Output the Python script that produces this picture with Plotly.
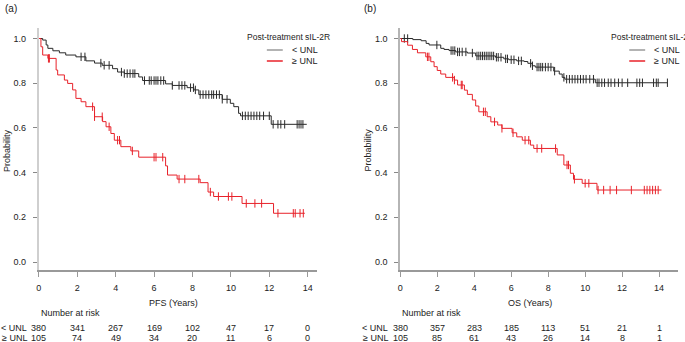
import numpy as np
import plotly.graph_objects as go

# ---------------- data ----------------
# Panel (a) PFS
pfs_low_t = [0, 0.2, 0.38, 0.47, 0.73, 1.07, 1.4, 1.93, 2.45, 2.9, 3.3, 3.84, 4.1, 4.45, 5.2, 5.4,
             6.6, 6.95, 7.72, 8.07, 8.33, 9.55, 9.97, 10.15, 10.4, 10.5, 12.1]
pfs_low_s = [1.0, 0.993, 0.971, 0.956, 0.945, 0.936, 0.926, 0.918, 0.90, 0.89, 0.88, 0.865, 0.85, 0.843,
             0.828, 0.812, 0.797, 0.79, 0.78, 0.77, 0.749, 0.728, 0.71, 0.695, 0.665, 0.654, 0.616]
pfs_low_end = 13.95
pfs_low_cens = [2.2, 2.4, 3.23, 3.4, 3.66, 4.3, 4.45, 4.6, 4.75, 4.9, 5.0, 5.5, 5.75, 5.85, 6.0, 6.1, 6.2,
                6.35, 6.5, 6.95, 7.3, 7.45, 7.6, 7.9, 8.05, 8.15, 8.4, 8.55, 8.7, 8.85, 9.0, 9.1, 9.25,
                9.4, 9.55, 9.8, 10.6, 10.75, 10.9, 11.05, 11.2, 11.35, 11.5, 11.7, 12.0, 12.2, 12.45,
                12.6, 12.8, 13.45, 13.55, 13.65, 13.75]

pfs_high_t = [0, 0.11, 0.2, 0.47, 0.9, 0.98, 1.33, 1.5, 1.76, 1.93, 2.2, 2.45, 2.9, 3.32, 3.5, 3.75,
              3.93, 4.27, 4.79, 5.2, 6.6, 6.7, 7.2, 8.4, 8.81, 9.1, 10.58, 12.22]
pfs_high_s = [1.0, 0.963, 0.926, 0.911, 0.859, 0.837, 0.814, 0.799, 0.77, 0.732, 0.717, 0.695, 0.65,
              0.628, 0.605, 0.575, 0.545, 0.516, 0.497, 0.469, 0.43, 0.389, 0.371, 0.355, 0.313, 0.293,
              0.262, 0.218]
pfs_high_end = 13.85
pfs_high_cens = [0.5, 0.55, 2.8, 2.9, 3.3, 3.66, 4.1, 4.2, 4.87, 6.0, 6.1, 6.45, 7.3, 7.6, 8.33, 8.93,
                 9.35, 9.87, 10.05, 10.8, 11.25, 11.6, 12.45, 13.25, 13.35, 13.6, 13.77]

# Panel (b) OS
os_low_t = [0, 0.68, 1.13, 1.4, 1.56, 2.19, 2.37, 2.64, 3.0, 3.63, 4.08, 5.15, 5.6, 5.87, 6.3, 6.7,
            6.9, 7.14, 7.3, 8.3, 8.6, 8.76, 8.9, 10.55]
os_low_s = [1.0, 0.995, 0.99, 0.978, 0.971, 0.956, 0.951, 0.946, 0.94, 0.935, 0.922, 0.916, 0.909,
            0.905, 0.90, 0.897, 0.889, 0.878, 0.872, 0.854, 0.841, 0.826, 0.818, 0.802]
os_low_end = 14.45
os_low_cens = [0.22, 0.4, 1.98, 2.75, 2.85, 2.95, 3.1, 3.2, 3.35, 3.55, 3.9, 4.15, 4.25, 4.35, 4.45,
               4.55, 4.65, 4.75, 4.85, 4.95, 5.05, 5.2, 5.3, 5.45, 5.7, 5.8, 6.0, 6.15, 6.4, 6.55, 7.05,
               7.15, 7.4, 7.5, 7.6, 7.7, 7.85, 8.0, 8.15, 8.35, 8.85, 9.0, 9.15, 9.3, 9.45, 9.6, 9.75,
               9.9, 10.05, 10.25, 10.45, 10.65, 10.75, 10.9, 11.05, 11.25, 11.4, 11.6, 11.8, 12.0,
               12.3, 12.8, 12.95, 13.1, 13.7, 13.85, 13.95, 14.45]

os_high_t = [0, 0.07, 0.4, 0.66, 0.93, 1.38, 1.65, 1.83, 2.0, 2.19, 2.46, 2.92, 3.1, 3.47, 3.63, 3.9,
             4.08, 4.25, 4.7, 4.9, 5.27, 5.5, 6.05, 6.3, 6.6, 7.04, 7.22, 8.49, 8.85, 9.2, 9.37, 9.84,
             10.64]
os_high_s = [1.0, 0.986, 0.97, 0.951, 0.936, 0.918, 0.896, 0.874, 0.857, 0.841, 0.826, 0.814, 0.792,
             0.769, 0.75, 0.725, 0.698, 0.672, 0.65, 0.627, 0.613, 0.598, 0.578, 0.56, 0.545, 0.523,
             0.508, 0.479, 0.434, 0.397, 0.37, 0.352, 0.322]
os_high_end = 14.13
os_high_cens = [1.47, 1.55, 2.83, 2.93, 3.3, 3.35, 4.5, 4.6, 5.1, 5.5, 6.1, 6.75, 6.95, 7.4, 7.65, 8.4,
                9.02, 9.1, 9.42, 10.0, 10.2, 10.7, 11.0, 11.35, 11.7, 12.5, 13.2, 13.35, 13.5, 13.65,
                13.8, 13.95]

risk_times = [0, 2, 4, 6, 8, 10, 12, 14]
pfs_risk_low = [380, 341, 267, 169, 102, 47, 17, 0]
pfs_risk_high = [105, 74, 49, 34, 20, 11, 6, 0]
os_risk_low = [380, 357, 283, 185, 113, 51, 21, 1]
os_risk_high = [105, 85, 61, 43, 26, 14, 8, 1]

y_ticks = [0.0, 0.2, 0.4, 0.6, 0.8, 1.0]
x_ticks = [0, 2, 4, 6, 8, 10, 12, 14]
group_labels = ["< UNL", "≥ UNL"]
legend_title = "Post-treatment sIL-2R"

# ---------------- style ----------------
W, H = 685, 342
FONT = "Liberation Sans, Arial, sans-serif"
TXT = "#222222"
BLACK = "#2a2a2a"
RED = "#e8222a"


def px_x(p):
    return p / W


def px_y(p):
    return 1 - p / H


fig = go.Figure()


def add_curve(t, s, end, cens, color, xa, ya):
    xs = list(t) + [end]
    ys = list(s) + [s[-1]]
    fig.add_trace(go.Scatter(x=xs, y=ys, mode="lines", line=dict(color=color, width=1, shape="hv"),
                             xaxis=xa, yaxis=ya, showlegend=False, hoverinfo="skip"))
    tt = np.array(t)
    ss = np.array(s)
    idx = np.searchsorted(tt, np.array(cens), side="right") - 1
    cy = ss[idx]
    fig.add_trace(go.Scatter(x=cens, y=cy, mode="markers",
                             marker=dict(symbol="line-ns", size=6, line=dict(color=color, width=1)),
                             xaxis=xa, yaxis=ya, showlegend=False, hoverinfo="skip"))


add_curve(pfs_low_t, pfs_low_s, pfs_low_end, pfs_low_cens, BLACK, "x", "y")
add_curve(pfs_high_t, pfs_high_s, pfs_high_end, pfs_high_cens, RED, "x", "y")
add_curve(os_low_t, os_low_s, os_low_end, os_low_cens, BLACK, "x2", "y2")
add_curve(os_high_t, os_high_s, os_high_end, os_high_cens, RED, "x2", "y2")

ydom = [px_y(270), px_y(28)]
yrange = [(262 - 270) / 223.5, (262 - 28) / 223.5]

common_x = dict(showgrid=False, zeroline=False, showline=True, linecolor="#999999", linewidth=1.5,
                ticks="outside", ticklen=5, tickcolor="#999999", tickwidth=1,
                tickvals=x_ticks, tickfont=dict(family=FONT, size=9, color=TXT), ticklabelstandoff=3)
common_y = dict(showgrid=False, zeroline=False, showline=True, linewidth=2,
                ticks="outside", ticklen=4, tickcolor="#888888", tickwidth=1,
                tickvals=y_ticks, ticktext=[f"{v:.1f}" for v in y_ticks], range=yrange, domain=ydom,
                tickfont=dict(family=FONT, size=9, color=TXT), ticklabelstandoff=5)

fig.update_layout(
    width=W, height=H, margin=dict(l=0, r=0, t=0, b=0),
    paper_bgcolor="white", plot_bgcolor="white",
    xaxis=dict(domain=[px_x(36), px_x(315)], range=[0, (315 - 36) / 19.29], anchor="y", **common_x),
    yaxis=dict(anchor="x", linecolor="#cfcfcf", **common_y),
    xaxis2=dict(domain=[px_x(399), px_x(678)], range=[0, (678 - 399) / 18.57], anchor="y2", **common_x),
    yaxis2=dict(anchor="x2", linecolor="#b5b5b5", **common_y),
)

ann = []


def text(x, y, s, size=9, xanchor="center", xref="paper", **kw):
    ann.append(dict(x=x, y=y, xref=xref, yref="paper", text=s, showarrow=False, xanchor=xanchor,
                    yanchor="middle", font=dict(family=FONT, size=size, color=TXT), **kw))


# panel labels
text(px_x(0), px_y(8), "(a)", size=10, xanchor="left")
text(px_x(361), px_y(8), "(b)", size=10, xanchor="left")

shapes = []
for (lx, xname, risks, title, axis_left, axis_right) in [
    (243, "x", (pfs_risk_low, pfs_risk_high), "PFS (Years)", 36, 315),
    (609, "x2", (os_risk_low, os_risk_high), "OS (Years)", 399, 678),
]:
    # y label
    text(px_x(axis_left - 32), px_y(150), "Probability", textangle=-90)
    # legend
    text(px_x(lx), px_y(37), legend_title, size=8.5, xanchor="left")
    line_x0 = lx + 22 if xname == "x" else lx + 20
    for i, (lab, col) in enumerate(zip(group_labels, ["#9a9a9a", RED])):
        yy = 50 + i * 11
        shapes.append(dict(type="line", xref="paper", yref="paper", x0=px_x(line_x0),
                           x1=px_x(line_x0 + 16), y0=px_y(yy), y1=px_y(yy),
                           line=dict(color=col, width=1.5)))
        text(px_x(line_x0 + 23), px_y(yy), lab, xanchor="left")
    # x title
    text(px_x(axis_left + (135 if xname == "x" else 130)), px_y(303), title)
    # number at risk
    text(px_x(axis_left), px_y(313), "Number at risk", xanchor="left")
    for i, (lab, vals) in enumerate(zip(group_labels, risks)):
        yy = 327.5 + i * 10.3
        text(px_x(axis_left - 10), px_y(yy), lab, xanchor="right")
        for t, v in zip(risk_times, vals):
            text(t, px_y(yy), str(v), xref=xname)

fig.update_layout(annotations=ann, shapes=shapes)
fig.write_html("out.html", config={"displayModeBar": False},
               post_script="document.body.style.margin='0';document.body.style.overflow='hidden';")
